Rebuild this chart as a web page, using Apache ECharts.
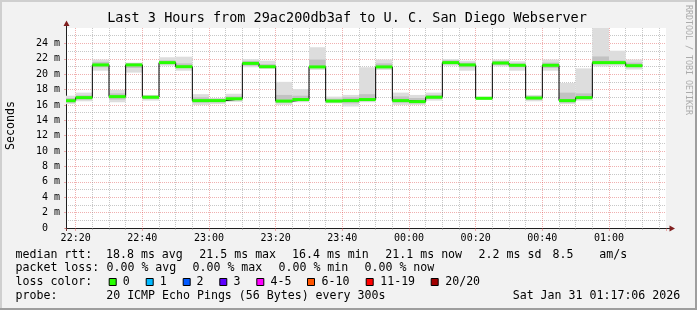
<!DOCTYPE html>
<html><head><meta charset="utf-8">
<script src="https://cdn.jsdelivr.net/npm/echarts@6/dist/echarts.min.js"></script>
<style>html,body{margin:0;padding:0;background:#f2f2f2;overflow:hidden}#c{width:697px;height:310px}</style>
</head><body><div id="c"></div>
<script>
// ---- data ----
const endTimes = ['22:20','22:25','22:30','22:35','22:40','22:45','22:50','22:55','23:00','23:05',
  '23:10','23:15','23:20','23:25','23:30','23:35','23:40','23:45','23:50','23:55',
  '00:00','00:05','00:10','00:15','00:20','00:25','00:30','00:35','00:40','00:45',
  '00:50','00:55','01:00','01:05','01:10'];
const median = [16.55,16.95,21.2,17.08,21.2,17.0,21.5,20.97,16.56,16.56,
  16.8,21.4,20.97,16.5,16.7,20.94,16.5,16.56,16.7,20.94,
  16.56,16.43,17.0,21.5,21.2,16.86,21.45,21.15,16.9,21.15,
  16.56,16.95,21.5,21.5,21.1];
const smokeHigh = [17.2,17.6,21.9,17.95,21.5,17.3,22.2,22.27,17.4,16.9,
  17.45,21.97,21.75,19.0,18.07,23.5,17.08,17.3,20.9,21.9,
  17.6,17.3,17.6,21.97,21.75,17.08,21.9,21.67,17.3,21.9,
  18.85,20.75,26.0,23.05,21.9];
const smokeLow = [16.1,16.47,20.45,16.35,20.2,16.56,21.1,20.45,16.0,16.1,
  16.4,20.9,20.67,16.0,16.35,20.55,16.2,15.8,16.35,20.55,
  16.0,16.0,16.56,21.1,20.45,16.65,21.0,20.45,16.47,20.45,
  16.1,16.56,21.0,21.1,20.6];
const coreHigh = [16.9,17.25,21.6,17.5,21.4,17.2,21.8,21.4,17.0,16.8,
  17.1,21.7,21.3,17.3,17.2,21.9,16.8,17.0,17.4,21.4,
  17.1,16.9,17.3,21.8,21.5,17.0,21.7,21.4,17.1,21.5,
  17.6,17.5,22.3,21.8,21.5];
const coreLow = [16.3,16.7,20.9,16.7,20.8,16.8,21.3,20.8,16.3,16.35,
  16.6,21.1,20.8,16.3,16.5,20.8,16.35,16.2,16.5,20.8,
  16.3,16.2,16.8,21.3,20.9,16.75,21.2,20.9,16.7,20.8,
  16.3,16.75,21.3,21.3,20.9];
const stepMinutes = 5;
const viewStart = '22:17:06', viewEnd = '01:17:06';
const lossLabels = ['0','1','2','3','4-5','6-10','11-19','20/20'];
const lossColors = ['#26ff00','#00b8ff','#0059ff','#5e00ff','#ff00ff','#ff5500','#ff0000','#a10000'];
const statsRtt = ['median rtt:','18.8 ms avg','21.5 ms max','16.4 ms min','21.1 ms now','2.2 ms sd','8.5','am/s'];
const statsLoss = ['packet loss:','0.00 % avg','0.00 % max','0.00 % min','0.00 % now'];
const probeText = ['probe:','20 ICMP Echo Pings (56 Bytes) every 300s','Sat Jan 31 01:17:06 2026'];
const titleText = 'Last 3 Hours from 29ac200db3af to U. C. San Diego Webserver';

// ---- helpers ----
function toMin(s){ const p=s.split(':').map(Number); let h=p[0]; if(h<12) h+=24; return (h-22)*60+p[1]+(p[2]||0)/60; }
function fmtMin(v){ let t=Math.round(v); let h=(22+Math.floor(t/60))%24; let m=t%60; return String(h).padStart(2,'0')+':'+String(m).padStart(2,'0'); }
const xs = endTimes.map(toMin);
const rows = xs.map((x,i)=>[x, median[i], smokeLow[i], smokeHigh[i], coreLow[i], coreHigh[i]]);

const MONO = 'DejaVu Sans Mono';
const chart = echarts.init(document.getElementById('c'), null, {renderer:'canvas'});

function clipRect(r, cs){ return echarts.graphic.clipRectByRect(r, {x:cs.x,y:cs.y,width:cs.width,height:cs.height}); }

function renderSmoke(params, api){
  const end = api.value(0), start = end - stepMinutes;
  const cs = params.coordSys;
  const mk = (lo,hi,fill)=>{
    const a = api.coord([start, hi]), b = api.coord([end, lo]);
    const r = clipRect({x:a[0], y:a[1], width:b[0]-a[0], height:b[1]-a[1]}, cs);
    return r ? {type:'rect', shape:r, style:{fill:fill}} : null;
  };
  return {type:'group', children:[mk(api.value(2),api.value(3),'#dddddd'), mk(api.value(4),api.value(5),'#c2c2c2')].filter(Boolean)};
}
function renderMedian(params, api){
  const end = api.value(0), start = end - stepMinutes;
  const cs = params.coordSys;
  const a = api.coord([start, api.value(1)]), b = api.coord([end, api.value(1)]);
  const x1 = Math.max(a[0], cs.x);
  return {type:'line', shape:{x1:x1, y1:a[1], x2:b[0], y2:b[1]}, style:{stroke:lossColors[0], lineWidth:3}};
}

const gridL=66, gridT=28, gridW=600, gridH=200;
const graphics = [
  {type:'rect', shape:{x:0,y:0,width:697,height:2}, style:{fill:'#cfcfcf'}},
  {type:'rect', shape:{x:0,y:0,width:2,height:310}, style:{fill:'#cfcfcf'}},
  {type:'rect', shape:{x:0,y:308,width:697,height:2}, style:{fill:'#9e9e9e'}},
  {type:'rect', shape:{x:695,y:0,width:2,height:310}, style:{fill:'#9e9e9e'}},
  {type:'text', x:347, y:18.5, style:{text:titleText, font:'13.5px "'+MONO+'"', fill:'#000', align:'center', verticalAlign:'middle'}},
  {type:'text', x:10.5, y:125.5, rotation:Math.PI/2, style:{text:'Seconds', font:'11.6px "'+MONO+'"', fill:'#000', align:'center', verticalAlign:'middle'}},
  {type:'text', x:688, y:60, rotation:-Math.PI/2, style:{text:'RRDTOOL / TOBI OETIKER', font:'8.3px "'+MONO+'"', fill:'#ababab', align:'center', verticalAlign:'middle'}},
  // axis extensions and arrows
  {type:'line', shape:{x1:66.5,y1:gridT,x2:66.5,y2:23}, style:{stroke:'#1f1f1f', lineWidth:1}},
  {type:'line', shape:{x1:66.5,y1:228,x2:66.5,y2:231}, style:{stroke:'#1f1f1f', lineWidth:1}},
  {type:'polygon', shape:{points:[[66.5,20.5],[63.5,26],[69.5,26]]}, style:{fill:'#801f1f'}},
  {type:'line', shape:{x1:gridL+gridW,y1:228.5,x2:670,y2:228.5}, style:{stroke:'#1f1f1f', lineWidth:1}},
  {type:'polygon', shape:{points:[[675,228.5],[669.5,225.5],[669.5,231.5]]}, style:{fill:'#801f1f'}}
];
const rowY = [254.5, 268.4, 282.3, 296.2];
const f = '11.6px "'+MONO+'"';
const txt = (x,y,s)=>({type:'text', x:x, y:y, style:{text:s, font:f, fill:'#000', align:'left', verticalAlign:'middle'}});
const rttX = [15.5,106,199.3,292,385.3,478.6,552.6,599.3];
statsRtt.forEach((s,i)=>graphics.push(txt(rttX[i], rowY[0], s)));
const lossX = [15.5,106.5,192.5,278.5,364.5];
statsLoss.forEach((s,i)=>graphics.push(txt(lossX[i], rowY[1], s)));
graphics.push(txt(15.5, rowY[2], 'loss color:'));
const sqX = [108.7,145.7,182.7,219.3,256.3,307,365.7,430.7];
const lbX = [122.8,159.8,196.5,233.5,270.5,321.5,380.2,445.2];
lossLabels.forEach((s,i)=>{
  graphics.push({type:'rect', shape:{x:sqX[i]+0.5, y:278.5, width:7, height:7}, style:{fill:lossColors[i], stroke:'#000', lineWidth:1}});
  graphics.push(txt(lbX[i], rowY[2], s));
});
const probeX = [15.5,106.2,512.7];
probeText.forEach((s,i)=>graphics.push(txt(probeX[i], rowY[3], s)));

const gridColor = 'rgba(143,143,143,0.5)';
const mgridColor = 'rgba(222,79,79,0.45)';
chart.setOption({
  animation:false,
  backgroundColor:'#f2f2f2',
  grid:{left:gridL, top:gridT, width:gridW, height:gridH, show:true, backgroundColor:'#ffffff', borderWidth:0, containLabel:false, outerBoundsMode:'none'},
  xAxis:{type:'value', min:toMin(viewStart), max:toMin(viewEnd), splitNumber:9, minInterval:20, maxInterval:20,
    axisLine:{show:true, onZero:false, lineStyle:{color:'#1f1f1f', width:1}},
    axisTick:{show:true, length:3, lineStyle:{color:mgridColor}},
    minorTick:{show:true, splitNumber:4, length:2, lineStyle:{color:gridColor}},
    axisLabel:{show:true, margin:5, fontFamily:MONO, fontSize:10, color:'#000', showMinLabel:false, showMaxLabel:false,
      formatter:(v)=> (Math.abs(v-Math.round(v))<1e-6 && Math.round(v)%20===0) ? fmtMin(v) : ''},
    splitLine:{show:true, showMinLine:false, showMaxLine:false, lineStyle:{color:mgridColor, type:[1,1], width:1}},
    minorSplitLine:{show:true, lineStyle:{color:gridColor, type:[1,1], width:1}}
  },
  yAxis:{type:'value', min:0, max:26, interval:2,
    axisLine:{show:true, lineStyle:{color:'#1f1f1f', width:1}},
    axisTick:{show:true, length:2, lineStyle:{color:mgridColor}},
    minorTick:{show:false, splitNumber:2},
    axisLabel:{show:true, margin:6, fontFamily:MONO, fontSize:10, color:'#000', showMaxLabel:false,
      formatter:(v)=> v===0 ? '0  ' : (v+' m')},
    splitLine:{show:true, showMinLine:false, showMaxLine:false, lineStyle:{color:mgridColor, type:[1,1], width:1}},
    minorSplitLine:{show:true, lineStyle:{color:gridColor, type:[1,1], width:1}}
  },
  series:[
    {type:'custom', name:'smoke', data:rows, renderItem:renderSmoke, z:2, silent:true, clip:true},
    {type:'line', name:'steps', data:rows.map(r=>[r[0], r[1]]), step:'start', symbol:'none', z:3, silent:true,
      lineStyle:{color:'#000', width:1}},
    {type:'custom', name:'median', data:rows, renderItem:renderMedian, z:4, silent:true, clip:true}
  ],
  graphic:graphics
});
</script></body></html>
